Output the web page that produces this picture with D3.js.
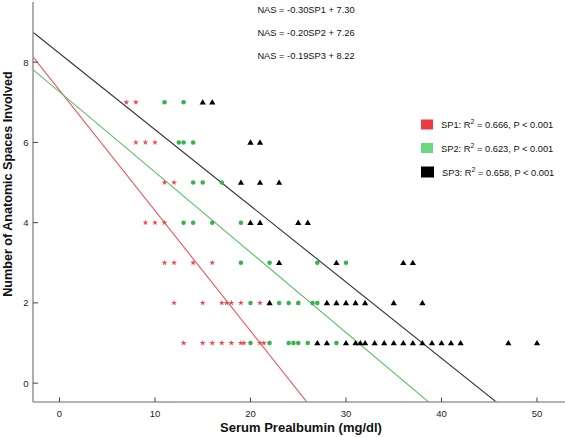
<!DOCTYPE html>
<html><head><meta charset="utf-8">
<script src="https://cdn.jsdelivr.net/npm/d3@7"></script>
<style>
html,body{margin:0;padding:0;background:#fff;}
svg{display:block;font-family:"Liberation Sans",Arial,sans-serif;}
</style></head>
<body><svg id="c" width="565" height="437"></svg>
<script>
// ---- data ----
const sp1Serum = [7,8, 8,9,10, 11,12, 9,10,11, 11,12,14,16, 12,15,17,17.5,18,19,21,25, 13,15,16,17,18,19,19.3,21,21.4];
const sp1NAS   = [7,7, 6,6,6,  5,5,  4,4,4,   3,3,3,3,     2,2,2,2,2,2,2,2,          1,1,1,1,1,1,1,1,1];
const sp2Serum = [11,13, 12.5,13,14, 14,15,17, 13,14,16,19, 19,22,27,30, 20,23,24,25,26.5,27, 20,22,24,24.5,25,26,29];
const sp2NAS   = [7,7,   6,6,6,      5,5,5,    4,4,4,4,     3,3,3,3,     2,2,2,2,2,2,          1,1,1,1,1,1,1];
const sp3Serum = [15,16, 20,21, 19,21,23, 20,21,25,26, 23,29,36,37, 22,28,29,30,31,32,35,38,
                  27,28,30,31,31.5,32,33,34,35,36,37,38,39,40,41,42,47,50];
const sp3NAS   = [7,7, 6,6, 5,5,5, 4,4,4,4, 3,3,3,3, 2,2,2,2,2,2,2,2,
                  1,1,1,1,1,1,1,1,1,1,1,1,1,1,1,1,1,1];
const seriesNames = ["SP1","SP2","SP3"];
const slopes = [-0.30,-0.20,-0.19];
const intercepts = [7.30,7.26,8.22];
const equations = ["NAS = -0.30SP1 + 7.30","NAS = -0.20SP2 + 7.26","NAS = -0.19SP3 + 8.22"];
const r2Labels = ["0.666","0.623","0.658"];
const xTicks = [0,10,20,30,40,50];
const yTicks = [0,2,4,6,8];
const xTitle = "Serum Prealbumin (mg/dl)";
const yTitle = "Number of Anatomic Spaces Involved";

// ---- layout ----
const svg = d3.select("#c");
const L = 33, R = 565, T = 0, B = 402;
const x = d3.scaleLinear().domain([-2.77, 52.93]).range([L, R]);
const y = d3.scaleLinear().domain([-0.47, 9.55]).range([B, T]);

const markColor = ["#ec4a4f","#33b34a","#000000"];
const lineColor = ["#e45a5e","#5cbf62","#333333"];
const legendColor = ["#ea3b40","#6cd680","#000000"];

svg.append("clipPath").attr("id","clip").append("rect")
  .attr("x",L).attr("y",T).attr("width",R-L).attr("height",B-T);

// regression lines
const gl = svg.append("g").attr("clip-path","url(#clip)");
seriesNames.forEach((s,i)=>{
  const x0 = x.domain()[0], x1 = x.domain()[1];
  gl.append("line")
    .attr("x1",x(x0)).attr("y1",y(intercepts[i]+slopes[i]*x0))
    .attr("x2",x(x1)).attr("y2",y(intercepts[i]+slopes[i]*x1))
    .attr("stroke",lineColor[i]).attr("stroke-width",1.1);
});

// points
const gp = svg.append("g");
const sets = [
  {xs:sp1Serum, ys:sp1NAS, type:d3.symbolStar, size:11},
  {xs:sp2Serum, ys:sp2NAS, type:d3.symbolCircle, size:16},
  {xs:sp3Serum, ys:sp3NAS, type:d3.symbolTriangle, size:17}
];
sets.forEach((st,i)=>{
  const sym = d3.symbol().type(st.type).size(st.size);
  st.xs.forEach((v,j)=>{
    gp.append("path").attr("d",sym())
      .attr("transform",`translate(${x(v)},${y(st.ys[j]) + (i===2?0.5:0)})`)
      .attr("fill",markColor[i]);
  });
});

// axes
const axisColor = "#9a9a9a";
svg.append("line").attr("x1",L).attr("x2",R).attr("y1",B).attr("y2",B)
  .attr("stroke",axisColor).attr("stroke-width",1.6);
svg.append("line").attr("x1",L).attr("x2",L).attr("y1",2).attr("y2",B)
  .attr("stroke",axisColor).attr("stroke-width",1.6);

const gx = svg.append("g");
xTicks.forEach(t=>{
  gx.append("line").attr("x1",x(t)).attr("x2",x(t)).attr("y1",B-4.5).attr("y2",B)
    .attr("stroke","#444").attr("stroke-width",1);
  gx.append("text").attr("x",x(t)).attr("y",416.5).attr("text-anchor","middle")
    .attr("font-size","9.5px").attr("fill","#222").text(t);
});
const gy = svg.append("g");
yTicks.forEach(t=>{
  gy.append("line").attr("x1",L).attr("x2",L+5).attr("y1",y(t)).attr("y2",y(t))
    .attr("stroke","#444").attr("stroke-width",1);
  gy.append("text").attr("x",28.5).attr("y",y(t)+3.5).attr("text-anchor","end")
    .attr("font-size","9.5px").attr("fill","#222").text(t);
});

// titles
svg.append("text").attr("x",301).attr("y",432).attr("text-anchor","middle")
  .attr("font-size","13px").attr("font-weight","bold").attr("fill","#111").text(xTitle);
svg.append("text").attr("transform","translate(11.5,184) rotate(-90)").attr("text-anchor","middle")
  .attr("font-size","12.6px").attr("font-weight","bold").attr("fill","#111").text(yTitle);

// equations
const eqY = [12.5, 36, 58.5];
equations.forEach((e,i)=>{
  svg.append("text").attr("x",306).attr("y",eqY[i]).attr("text-anchor","middle")
    .attr("font-size","9.3px").attr("fill","#111").text(e);
});

// legend
const legY = [124.5, 148, 172];
seriesNames.forEach((s,i)=>{
  const w = i===2?13:12, h = i===2?11:10;
  svg.append("rect").attr("x",421).attr("y",legY[i]-h/2).attr("width",w).attr("height",h)
    .attr("fill",legendColor[i]);
  const t = svg.append("text").attr("x",i===2?442:441).attr("y",legY[i]+3.5)
    .attr("font-size","9.3px").attr("fill","#111");
  t.append("tspan").text(s+": R");
  t.append("tspan").attr("dy",-4).attr("font-size","7px").text("2");
  t.append("tspan").attr("dy",4).text(" = "+r2Labels[i]+", P < 0.001");
});
</script>
</body></html>
